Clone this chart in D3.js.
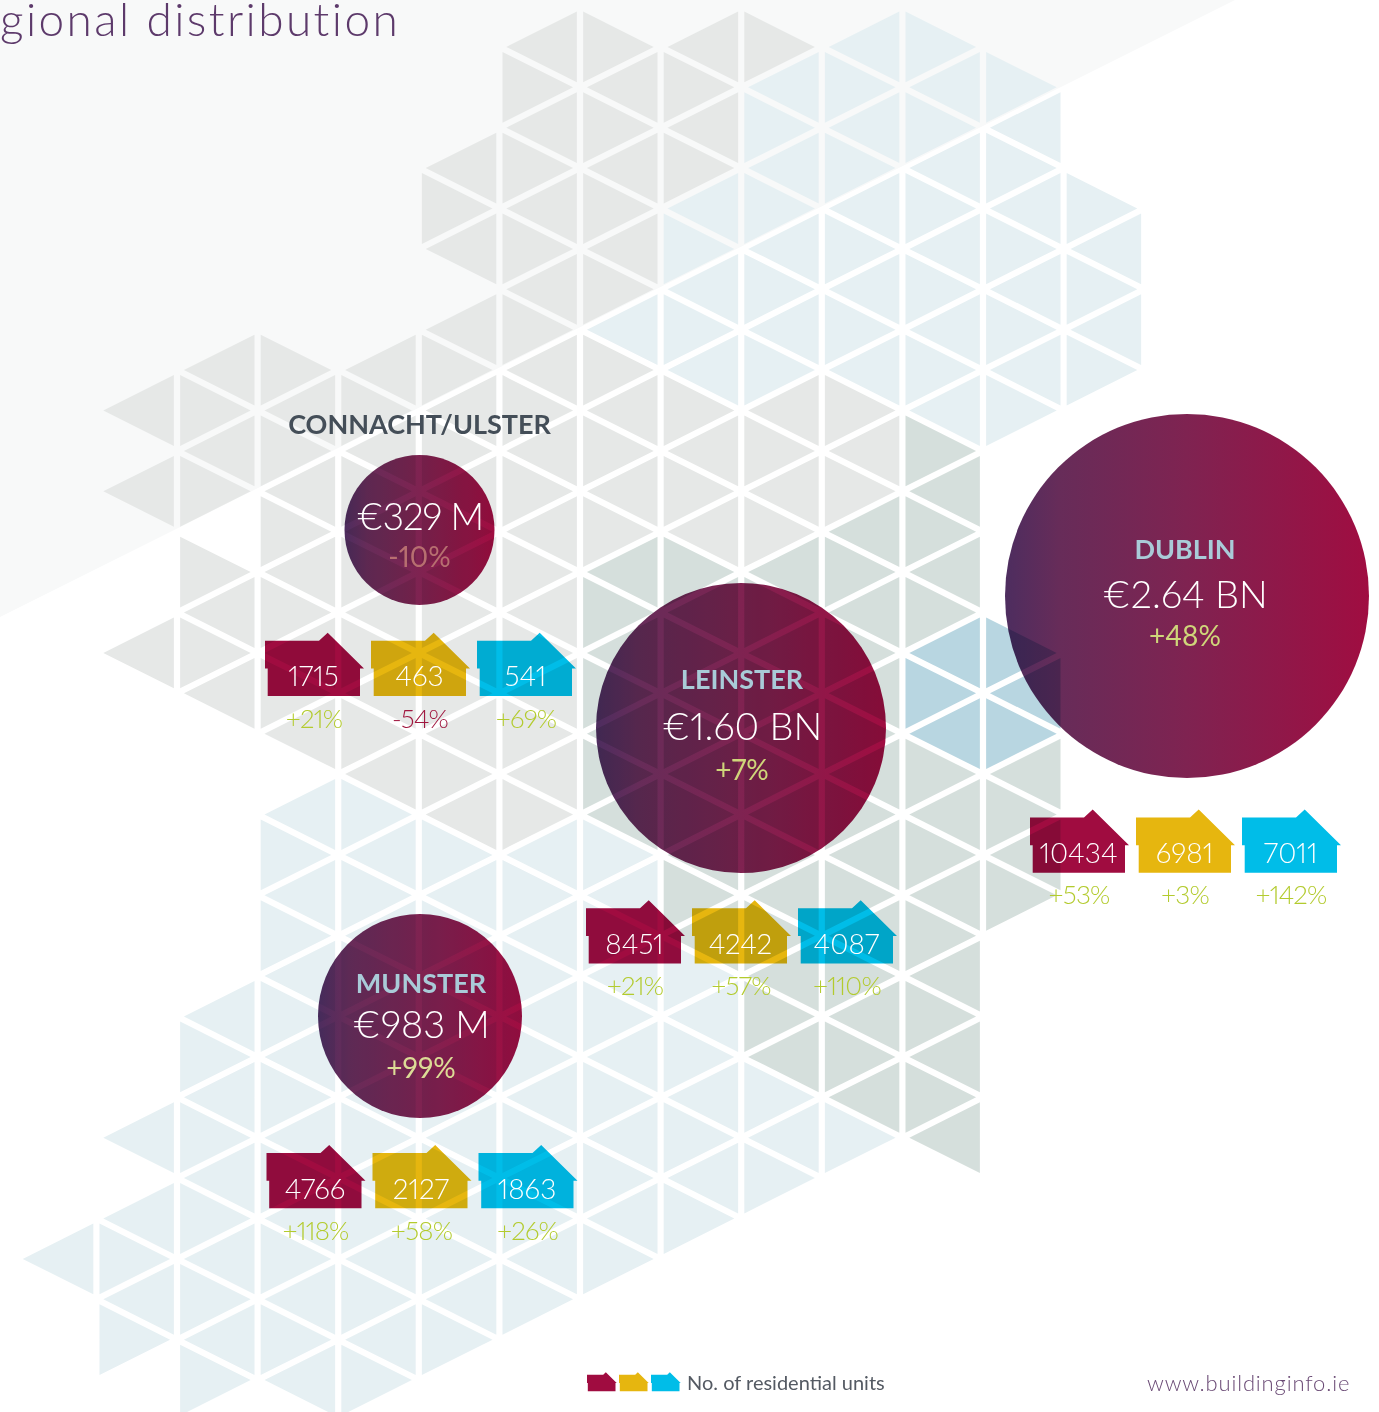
<!DOCTYPE html>
<html>
<head>
<meta charset="utf-8">
<title>Regional distribution</title>
<script src="https://cdn.jsdelivr.net/npm/d3@7"></script>
<style>
    html, body { margin: 0; padding: 0; background: #fff; }
    svg { display: block; }
    text { font-family: Lato, sans-serif; font-variant-numeric: proportional-nums; }
</style>
</head>
<body>
<div id="chart"></div>
<script>
// chart values
const regions = ['CONNACHT/ULSTER', 'DUBLIN', 'LEINSTER', 'MUNSTER'];
const valueMillions = [329, 2640, 1600, 983];
const valueLabels = ['€329 M', '€2.64 BN', '€1.60 BN', '€983 M'];
const valueChanges = ['-10%', '+48%', '+7%', '+99%'];
const unitTypes = ['crimson', 'yellow', 'cyan'];
const unitCounts = [[1715, 463, 541], [10434, 6981, 7011], [8451, 4242, 4087], [4766, 2127, 1863]];
const unitChanges = [['+21%', '-54%', '+69%'], ['+53%', '+3%', '+142%'], ['+21%', '+57%', '+110%'], ['+118%', '+58%', '+26%']];

// map cells: one list per vertical strip of the lattice, runs of [shade, first level, last level]
const stripRuns = [
    [['b', 31, 31]],
    [['g', 10, 10], ['g', 12, 12], ['g', 16, 16], ['b', 28, 28], ['b', 30, 33]],
    [['g', 9, 12], ['g', 14, 17], ['b', 25, 34]],
    [['g', 9, 18], ['b', 20, 34]],
    [['g', 9, 19], ['b', 20, 34]],
    [['g', 4, 6], ['g', 8, 20], ['b', 21, 33]],
    [['g', 1, 20], ['b', 21, 32]],
    [['g', 1, 7], ['b', 8, 8], ['g', 9, 13], ['d', 14, 20], ['b', 21, 31]],
    [['g', 1, 4], ['b', 5, 9], ['g', 10, 13], ['d', 14, 23], ['b', 24, 30]],
    [['g', 1, 1], ['b', 2, 9], ['g', 10, 13], ['d', 14, 26], ['b', 27, 29]],
    [['b', 1, 9], ['g', 10, 12], ['d', 13, 27], ['b', 28, 28]],
    [['b', 1, 10], ['d', 11, 15], ['s', 16, 18], ['d', 19, 28]],
    [['b', 2, 10], ['s', 16, 18], ['d', 19, 22]],
    [['b', 5, 9]]
];

const width = 1379;
const height = 1412;

const shades = { g: '#e6e8e7', b: '#e6f0f3', d: '#d5dfdc', s: '#b8d6e1' };
const unitColors = { crimson: '#a00c40', yellow: '#e6b60f', cyan: '#00bde8' };

// layout of the four groups
const circleCentres = [[419.5, 530], [1187, 596], [741, 728], [420, 1016]];
const houseOrigins = [[265, 632.7], [1030, 809.5], [586, 900.3], [266.5, 1145]];
const labelOffsets = [
    { name: -96, value: 0, change: 36.5, x: 0 },
    { name: -37, value: 11.5, change: 50, x: -2 },
    { name: -39.5, value: 12, change: 51.5, x: 1 },
    { name: -23, value: 22, change: 62, x: 1 }
];

const x = d3.scaleLinear().domain([0, 14]).range([15.8, 1144.2]);
const y = d3.scaleLinear().domain([0, 35]).range([6.5, 1420.5]);
const radius = d3.scaleLinear().domain([329, 983, 1600, 2640]).range([75, 102, 145, 182]);
const houseStep = d3.scaleLinear().domain([0, 1]).range([0, 106]);

const svg = d3.select('#chart')
    .append('svg')
    .attr('width', width)
    .attr('height', height);

const gradient = svg.append('defs')
    .append('linearGradient')
    .attr('id', 'circleFill');
gradient.append('stop').attr('offset', '0%').attr('stop-color', '#4d2d5f');
gradient.append('stop').attr('offset', '15%').attr('stop-color', '#672c59');
gradient.append('stop').attr('offset', '50%').attr('stop-color', '#7f2351');
gradient.append('stop').attr('offset', '100%').attr('stop-color', '#a00d41');

// pale page corner behind the map
svg.append('path')
    .attr('d', `M0,0L1235,0L0,617Z`)
    .attr('fill', '#f8f9f9');

// shrink a triangle towards its incentre so the gaps show what is behind it
function inset(pts, d) {
    const len = (a, b) => Math.hypot(a[0] - b[0], a[1] - b[1]);
    const la = len(pts[1], pts[2]), lb = len(pts[0], pts[2]), lc = len(pts[0], pts[1]);
    const p = la + lb + lc;
    const cx = (la * pts[0][0] + lb * pts[1][0] + lc * pts[2][0]) / p;
    const cy = (la * pts[0][1] + lb * pts[1][1] + lc * pts[2][1]) / p;
    const area = Math.abs((pts[1][0] - pts[0][0]) * (pts[2][1] - pts[0][1]) - (pts[2][0] - pts[0][0]) * (pts[1][1] - pts[0][1])) / 2;
    const k = 1 - d / (2 * area / p);
    return pts.map(q => [cx + (q[0] - cx) * k, cy + (q[1] - cy) * k]);
}

const cells = [];
stripRuns.forEach((runs, strip) => {
    runs.forEach(([shade, first, last]) => {
        d3.range(first, last + 1).forEach(level => cells.push({ strip, level, shade }));
    });
});

svg.append('g')
    .selectAll('path')
    .data(cells)
    .join('path')
    .attr('fill', d => shades[d.shade])
    .attr('d', d => {
        const pointsLeft = (d.strip + d.level) % 2 === 1;
        const apexCol = pointsLeft ? d.strip : d.strip + 1;
        const sideCol = pointsLeft ? d.strip + 1 : d.strip;
        const pts = [[x(apexCol), y(d.level)], [x(sideCol), y(d.level - 1)], [x(sideCol), y(d.level + 1)]];
        return 'M' + inset(pts, 3.1).join('L') + 'Z';
    });

// money circles
svg.append('g')
    .selectAll('circle')
    .data(regions)
    .join('circle')
    .attr('cx', (d, i) => circleCentres[i][0])
    .attr('cy', (d, i) => circleCentres[i][1])
    .attr('r', (d, i) => radius(valueMillions[i]))
    .attr('fill', 'url(#circleFill)')
    .style('mix-blend-mode', 'multiply');

function housePath(k) {
    const pts = [[0, 8], [54, 8], [62.7, 0], [99, 35.7], [95, 35.7], [95, 63.3], [2.7, 63.3], [2.7, 35.7], [0, 35.7]];
    return 'M' + pts.map(p => [p[0] * k, p[1] * k]).join('L') + 'Z';
}

// residential units per region
regions.forEach((region, r) => {
    const [ox, oy] = houseOrigins[r];
    const g = svg.append('g');
    unitTypes.forEach((type, t) => {
        const hx = ox + houseStep(t);
        g.append('path')
            .attr('d', housePath(1))
            .attr('transform', `translate(${hx},${oy})`)
            .attr('fill', unitColors[type])
            .style('mix-blend-mode', 'multiply');
        g.append('text')
            .attr('x', hx + 48.5)
            .attr('y', oy + 53.5)
            .attr('text-anchor', 'middle')
            .attr('font-size', 28)
            .attr('font-weight', 300)
            .attr('fill', '#fff')
            .text(unitCounts[r][t]);
        const change = unitChanges[r][t];
        g.append('text')
            .attr('x', hx + 49)
            .attr('y', oy + 94.8)
            .attr('text-anchor', 'middle')
            .attr('font-size', 26)
            .attr('font-weight', 300)
            .attr('letter-spacing', -0.8)
            .attr('fill', change.startsWith('-') ? '#a0173f' : '#b3cb2e')
            .text(change);
    });
});

// circle labels
const nameColors = ['#444e58', '#a9cbd8', '#a9cbd8', '#a9cbd8'];
const changeColors = ['#b76f70', '#cfd67a', '#cfd67a', '#dcdc96'];
regions.forEach((region, r) => {
    const [cx, cy] = circleCentres[r];
    const off = labelOffsets[r];
    svg.append('text')
        .attr('x', cx + off.x).attr('y', cy + off.name)
        .attr('text-anchor', 'middle')
        .attr('font-size', 27)
        .attr('font-weight', 700)
        .attr('fill', nameColors[r])
        .text(region);
    svg.append('text')
        .attr('x', cx + off.x).attr('y', cy + off.value)
        .attr('text-anchor', 'middle')
        .attr('font-size', r === 0 ? 37 : 38)
        .attr('font-weight', 300)
        .attr('letter-spacing', r === 0 ? -1 : 0)
        .attr('fill', '#fff')
        .text(valueLabels[r]);
    svg.append('text')
        .attr('x', cx + off.x).attr('y', cy + off.change)
        .attr('text-anchor', 'middle')
        .attr('font-size', 28)
        .attr('font-weight', 400)
        .attr('fill', changeColors[r])
        .text(valueChanges[r]);
});

// title, starts cut off in the source
svg.append('text')
    .attr('x', 0).attr('y', 36)
    .attr('font-size', 46)
    .attr('font-weight', 300)
    .attr('letter-spacing', 2.4)
    .attr('fill', '#5d3a6b')
    .text('gional distribution');

// legend
unitTypes.forEach((type, t) => {
    svg.append('path')
        .attr('d', housePath(0.3))
        .attr('transform', `translate(${587 + t * 32},1372.3)`)
        .attr('fill', unitColors[type]);
});
svg.append('text')
    .attr('x', 687).attr('y', 1389.5)
    .attr('font-size', 20)
    .attr('fill', '#545a63')
    .text('No. of residential units');
svg.append('text')
    .attr('x', 1147).attr('y', 1391)
    .attr('font-size', 22)
    .attr('font-weight', 300)
    .attr('letter-spacing', 0.85)
    .attr('fill', '#6a4a75')
    .text('www.buildinginfo.ie');
</script>
</body>
</html>
